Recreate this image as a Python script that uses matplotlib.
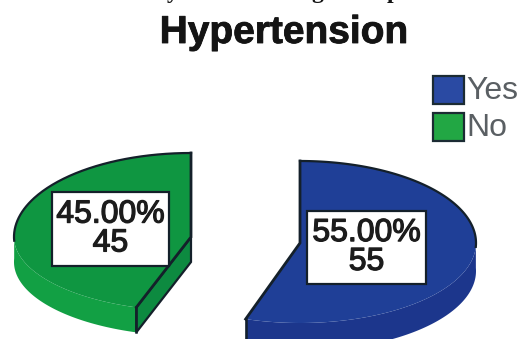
import numpy as np
import matplotlib
matplotlib.use("Agg")
import matplotlib.pyplot as plt
import matplotlib.patheffects as pe
from matplotlib.patches import Polygon, Rectangle

categories = ["Yes", "No"]
values = [55, 45]
percent_labels = ["55.00%", "45.00%"]
title = "Hypertension"
caption_letters = ["y", "g", "p"]

plt.rcParams["font.family"] = ["Liberation Sans", "DejaVu Sans"]

W, H = 521, 339
fig = plt.figure(figsize=(W / 100, H / 100), dpi=100)
ax = fig.add_axes([0, 0, 1, 1])
ax.set_xlim(0, W)
ax.set_ylim(H, 0)
ax.axis("off")

total = sum(values)
OUTLINE = "#14202a"


def rim(cx, cy, a, b_up, b_low, depth, theta):
    """Rim points of a tilted pie; theta runs clockwise from 12 o'clock."""
    x = cx + a * np.sin(theta)
    c = np.cos(theta)
    y = cy - np.where(c > 0, b_up, b_low) * c + depth
    return x, y


def draw_slice(value, cx, cy, a, b_up, b_low, depth, top, side, cut, clockwise):
    sweep = 2 * np.pi * value / total * (1 if clockwise else -1)
    th = np.linspace(0, sweep, 240)
    tx, ty = rim(cx, cy, a, b_up, b_low, 0, th)
    bx, by = rim(cx, cy, a, b_up, b_low, depth, th)

    # Outer wall, only on the part of the rim that faces the viewer
    front = np.cos(th) < 0.05
    wall = np.r_[np.c_[tx[front], ty[front]], np.c_[bx[front], by[front]][::-1]]
    ax.add_patch(Polygon(wall, closed=True, fc=side, ec="none", zorder=2))

    # Cut face running from the centre to the far rim point
    ex, ey = tx[-1], ty[-1]
    if not clockwise:
        face = [(cx, cy), (ex, ey), (ex, ey + depth), (cx, cy + depth)]
        ax.add_patch(Polygon(face, closed=True, fc=cut, ec=OUTLINE, lw=1.6, zorder=3))

    # Top surface
    surf = np.r_[[[cx, cy]], np.c_[tx, ty]]
    ax.add_patch(Polygon(surf, closed=True, fc=top, ec="none", zorder=4))
    upper = np.cos(th) > -0.05
    ax.plot(tx[upper], ty[upper], color=OUTLINE, lw=1.6, zorder=5)
    ax.plot([tx[0], cx, ex], [ty[0], cy, ey], color=OUTLINE, lw=2.0, zorder=5,
            solid_joinstyle="miter")
    ax.plot([ex, ex], [ey, ey + depth], color=OUTLINE, lw=1.8, zorder=5)


draw_slice(values[0], 300, 243, 176, 82, 80, 28,
           "#1f3f97", "#1c368c", "#1c368c", True)
draw_slice(values[1], 191, 237, 177, 84, 74, 25,
           "#0f9641", "#12a044", "#0d8a40", False)

# Value boxes
boxes = [(307, 211, 119, 73), (52, 192, 117, 74)]
for (x, y, w, h), pct, val in zip(boxes, percent_labels, values):
    ax.add_patch(Rectangle((x, y), w, h, fc="white", ec=OUTLINE, lw=1.6, zorder=6))
    ax.text(x + w / 2, y + h / 2, f"{pct}\n{val}", ha="center", va="center",
            fontsize=23, color="#1c1c1c", linespacing=0.95, zorder=7,
            path_effects=[pe.withStroke(linewidth=0.9, foreground="#1c1c1c")])

# Title with the tail of the caption line above it
ax.text(284, 33, title, ha="center", va="center", fontsize=28, weight="bold",
        color="#141414",
        path_effects=[pe.withStroke(linewidth=0.6, foreground="#141414")])
for letter, x in zip(caption_letters, [173, 317, 393]):
    ax.text(x, -2, letter, ha="center", va="baseline", fontsize=17, weight="bold",
            family="Liberation Serif", color="#141414")

# Legend
legend_colors = ["#2a4aa3", "#22a744"]
swatch_y = [76, 113]
for name, col, y in zip(categories, legend_colors, swatch_y):
    ax.add_patch(Rectangle((433, y), 31, 28, fc=col, ec="#1b2b33", lw=1.6))
    ax.text(466, y + 15, name, ha="left", va="center", fontsize=23, color="#5a5f63")

fig.savefig("out.png", dpi=100, facecolor="white")
